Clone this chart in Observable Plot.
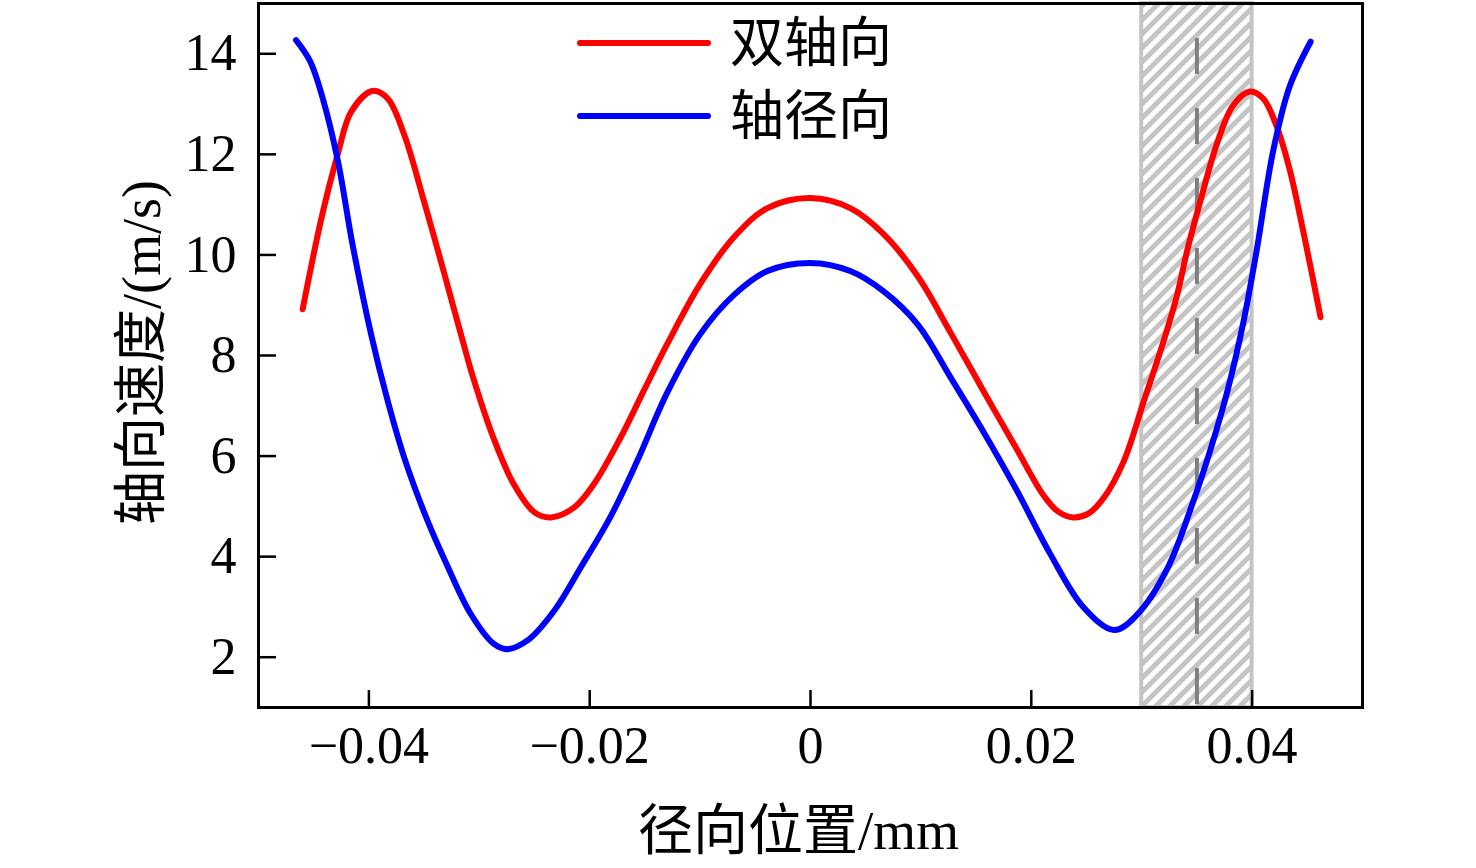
<!DOCTYPE html>
<html>
<head>
<meta charset="utf-8">
<script src="https://cdn.jsdelivr.net/npm/d3@7"></script>
<script src="https://cdn.jsdelivr.net/npm/@observablehq/plot@0.6"></script>
<style>
  html, body { margin: 0; padding: 0; background: #ffffff; }
  #chart { width: 1476px; height: 868px; }
</style>
</head>
<body>
<div id="chart"></div>
<script>
// ---- data ----
const seriesNames = ["双轴向", "轴径向"];
const seriesColors = ["#ff0000", "#0000ff"];

const biaxialX = [-0.0460, -0.0443, -0.0428, -0.0416, -0.0397, -0.0383, -0.0368, -0.0350, -0.0332, -0.0317,
  -0.0305, -0.0287, -0.0269, -0.0250, -0.0235, -0.0214, -0.0196, -0.0172, -0.0151, -0.0130,
  -0.0100, -0.0069, -0.0039, 0, 0.0036, 0.0066, 0.0097, 0.0127, 0.0157, 0.0187,
  0.0211, 0.0224, 0.0238, 0.0252, 0.0266, 0.0284, 0.0302, 0.0317, 0.0332, 0.0341, 0.0353, 0.0368,
  0.0383, 0.0398, 0.0410, 0.0422, 0.0434, 0.0447, 0.0462];
const biaxialY = [8.92, 10.73, 12.02, 12.85, 13.26, 13.11, 12.39, 11.06, 9.65, 8.45,
  7.52, 6.35, 5.45, 4.88, 4.78, 4.98, 5.45, 6.37, 7.30, 8.22,
  9.42, 10.36, 10.93, 11.13, 10.93, 10.42, 9.58, 8.45, 7.28, 6.13,
  5.22, 4.90, 4.78, 4.86, 5.18, 5.91, 7.10, 8.09, 9.20, 10.07, 11.06, 12.20,
  12.98, 13.25, 13.11, 12.57, 11.70, 10.40, 8.76];

const radialX = [-0.0466, -0.0453, -0.0441, -0.0428, -0.0415, -0.0398, -0.0383, -0.0368, -0.0347, -0.0329,
  -0.0308, -0.0287, -0.0275, -0.0256, -0.0232, -0.0208, -0.0181, -0.0157, -0.0130, -0.0100,
  -0.0069, -0.0039, 0, 0.0036, 0.0066, 0.0097, 0.0127, 0.0157, 0.0187, 0.0217,
  0.0247, 0.0275, 0.0296, 0.0323, 0.0348, 0.0362, 0.0377, 0.0392, 0.0404, 0.0419,
  0.0434, 0.0453];
const radialY = [14.27, 13.84, 13.05, 11.86, 10.23, 8.42, 7.10, 5.97, 4.72, 3.82,
  2.87, 2.27, 2.16, 2.34, 2.93, 3.79, 4.80, 5.90, 7.25, 8.42,
  9.21, 9.68, 9.84, 9.68, 9.28, 8.62, 7.56, 6.47, 5.31, 4.06,
  3.00, 2.54, 2.85, 3.75, 5.18, 6.11, 7.24, 8.65, 10.07, 12.06,
  13.35, 14.24];

const bandX = [0.03, 0.04];   // hatched region
const dashX = [0.035];        // dashed reference line
const xTicks = [-0.04, -0.02, 0, 0.02, 0.04];
const yTicks = [2, 4, 6, 8, 10, 12, 14];
const xDomain = [-0.05, 0.05];
const yDomain = [1, 15];
const xTitle = "径向位置/mm";
const yTitle = "轴向速度/(m/s)";

// ---- build tables ----
const lineData = [
  ...biaxialX.map((x, i) => ({x, y: biaxialY[i], s: seriesNames[0]})),
  ...radialX.map((x, i) => ({x, y: radialY[i], s: seriesNames[1]}))
];
const fmtX = d => d === 0 ? "0" : d3.format(".2f")(d);
const fmtY = d => String(d);

const W = 1476, H = 868;
const mL = 258, mR = 114, mT = 3, mB = 161;
const fw = W - mL - mR, fh = H - mT - mB;
const fontFam = "'Liberation Serif', 'Noto Sans CJK SC', serif";

const svg = Plot.plot({
  width: W, height: H,
  marginLeft: mL, marginRight: mR, marginTop: mT, marginBottom: mB,
  style: {background: "#ffffff", fontFamily: fontFam, color: "#000"},
  x: {domain: xDomain},
  y: {domain: yDomain},
  color: {domain: seriesNames, range: seriesColors},
  marks: [
    Plot.rect([bandX], {x1: d => d[0], x2: d => d[1], fill: "#ffffff", stroke: "#c4c4c4", strokeWidth: 4}),
    Plot.ruleX(dashX, {x: d => d, stroke: "#7f7f7f", strokeWidth: 4, strokeDasharray: "36,34", strokeDashoffset: 35}),
    Plot.line(lineData, {x: "x", y: "y", z: "s", stroke: "s", strokeWidth: 6, curve: "catmull-rom"}),
    Plot.frame({stroke: "#000", strokeWidth: 3}),
    Plot.tickY(yTicks, {y: d => d, stroke: "#000", strokeWidth: 2.5, insetRight: fw - 18}),
    Plot.tickX(xTicks, {x: d => d, stroke: "#000", strokeWidth: 2.5, insetTop: fh - 17}),
    Plot.axisX(xTicks, {tickSize: 0, tickPadding: 19, tickFormat: fmtX, fontSize: 52, label: null}),
    Plot.axisY(yTicks, {tickSize: 0, tickPadding: 22, tickFormat: fmtY, fontSize: 52, label: null}),
    Plot.text([xTitle], {frameAnchor: "bottom", dx: -12, dy: 124, fontSize: 55, lineAnchor: "middle", textAnchor: "middle", fontFamily: fontFam}),
    Plot.text([yTitle], {frameAnchor: "left", dx: -116, dy: -3, rotate: -90, fontSize: 54, lineAnchor: "middle", textAnchor: "middle", fontFamily: fontFam})
  ]
});

// hatch pattern for the band
const s = d3.select(svg);
const defs = s.insert("defs", ":first-child");
const P = 14;
const pat = defs.append("pattern").attr("id", "hatch").attr("patternUnits", "userSpaceOnUse")
  .attr("width", P).attr("height", P);
pat.append("rect").attr("width", P).attr("height", P).attr("fill", "#ffffff");
pat.append("path").attr("d", `M-2,${P + 2} L${P + 2},-2 M${-P / 2 - 2},${P / 2 + 2} L${P / 2 + 2},${-P / 2 - 2} M${P / 2 - 2},${P * 1.5 + 2} L${P * 1.5 + 2},${P / 2 - 2}`)
  .attr("stroke", "#c4c4c4").attr("stroke-width", 5);
s.selectAll("g[aria-label='rect'] rect").attr("fill", "url(#hatch)");

// legend
const leg = s.append("g").attr("class", "legend");
seriesNames.forEach((name, i) => {
  const ly = 43 + i * 73;
  leg.append("line").attr("x1", 580).attr("x2", 708).attr("y1", ly).attr("y2", ly)
    .attr("stroke", seriesColors[i]).attr("stroke-width", 6).attr("stroke-linecap", "round");
  leg.append("text").attr("x", 730).attr("y", ly).attr("dy", "0.35em")
    .attr("text-anchor", "start")
    .attr("font-size", 54).attr("font-family", "'Noto Sans CJK SC', sans-serif")
    .attr("fill", "#000").text(name);
});

document.getElementById("chart").appendChild(svg);
</script>
</body>
</html>
